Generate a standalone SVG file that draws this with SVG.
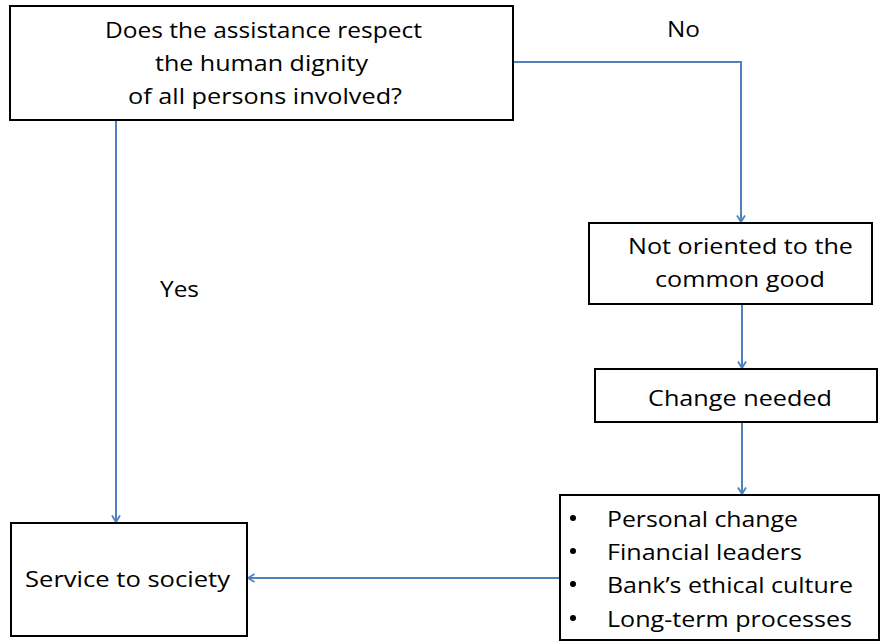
<svg xmlns="http://www.w3.org/2000/svg" width="883" height="641" viewBox="0 0 883 641">
  <style>
    .box { fill: #ffffff; stroke: #000000; stroke-width: 2; }
    .t { font-family: "Open Sans", "Liberation Sans", sans-serif; font-size: 22px; fill: #000000; }
    .conn { fill: none; stroke: #4F81BD; stroke-width: 2; }
    .dot { fill: #000000; }
  </style>
  <defs>
    <marker id="arrow" viewBox="0 0 10 10" refX="9.5" refY="5" markerWidth="10" markerHeight="10" markerUnits="userSpaceOnUse" orient="auto">
      <path d="M3,1 L9.5,5 L3,9" fill="none" stroke="#4F81BD" stroke-width="1.8"/>
    </marker>
  </defs>
  <rect width="883" height="641" fill="#ffffff"/>

  <g id="connectors">
    <path class="conn" d="M514,62 L741,62 L741,222" marker-end="url(#arrow)"/>
    <path class="conn" d="M116,121 L116,522" marker-end="url(#arrow)"/>
    <path class="conn" d="M742,305 L742,368" marker-end="url(#arrow)"/>
    <path class="conn" d="M742,423 L742,494" marker-end="url(#arrow)"/>
    <path class="conn" d="M559,578 L248,578" marker-end="url(#arrow)"/>
  </g>

  <g id="question">
    <rect class="box" x="10" y="6" width="503" height="114"/>
    <text class="t" x="105" y="38" textLength="317" lengthAdjust="spacingAndGlyphs">Does the assistance respect</text>
    <text class="t" x="155" y="71" textLength="213" lengthAdjust="spacingAndGlyphs">the human dignity</text>
    <text class="t" x="128" y="104" textLength="274" lengthAdjust="spacingAndGlyphs">of all persons involved?</text>
  </g>

  <g id="label-no">
    <text class="t" x="667" y="37" textLength="33" lengthAdjust="spacingAndGlyphs">No</text>
  </g>

  <g id="label-yes">
    <text class="t" x="160" y="297" textLength="39" lengthAdjust="spacingAndGlyphs">Yes</text>
  </g>

  <g id="not-oriented">
    <rect class="box" x="589" y="223" width="283" height="81"/>
    <text class="t" x="628" y="254" textLength="225" lengthAdjust="spacingAndGlyphs">Not oriented to the</text>
    <text class="t" x="655" y="287" textLength="170" lengthAdjust="spacingAndGlyphs">common good</text>
  </g>

  <g id="change-needed">
    <rect class="box" x="595" y="369" width="282" height="53"/>
    <text class="t" x="648" y="406" textLength="184" lengthAdjust="spacingAndGlyphs">Change needed</text>
  </g>

  <g id="changes-list">
    <rect class="box" x="560" y="495" width="319" height="145"/>
    <circle class="dot" cx="573" cy="518" r="3"/>
    <circle class="dot" cx="573" cy="551" r="3"/>
    <circle class="dot" cx="573" cy="584" r="3"/>
    <circle class="dot" cx="573" cy="618" r="3"/>
    <text class="t" x="607" y="527" textLength="191" lengthAdjust="spacingAndGlyphs">Personal change</text>
    <text class="t" x="607" y="560" textLength="195" lengthAdjust="spacingAndGlyphs">Financial leaders</text>
    <text class="t" x="607" y="593" textLength="246" lengthAdjust="spacingAndGlyphs">Bank’s ethical culture</text>
    <text class="t" x="607" y="627" textLength="245" lengthAdjust="spacingAndGlyphs">Long-term processes</text>
  </g>

  <g id="service">
    <rect class="box" x="11" y="523" width="236" height="113"/>
    <text class="t" x="25" y="587" textLength="205" lengthAdjust="spacingAndGlyphs">Service to society</text>
  </g>
</svg>
